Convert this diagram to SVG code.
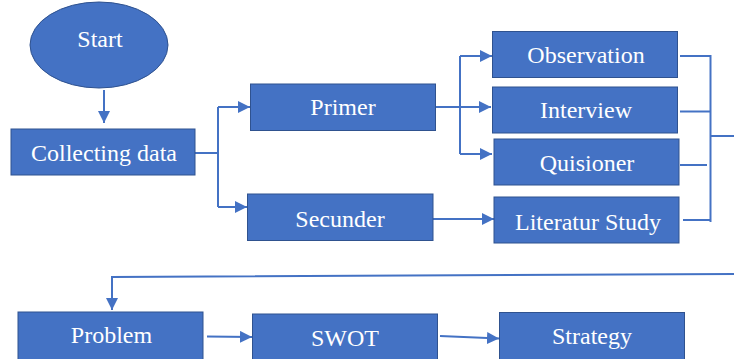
<svg xmlns="http://www.w3.org/2000/svg" width="734" height="359" viewBox="0 0 734 359">
  <style>
    .box { fill: #4472C4; stroke: #2F528F; stroke-width: 1; }
    .lbl { fill: #ffffff; font-family: 'Liberation Serif', 'DejaVu Serif', serif; font-size: 24px; text-anchor: middle; }
    .ln { fill: none; stroke: #4472C4; stroke-width: 2; }
    .arr { fill: none; stroke: #4472C4; stroke-width: 2; marker-end: url(#ah); }
  </style>
  <defs>
    <marker id="ah" markerUnits="userSpaceOnUse" markerWidth="12" markerHeight="12" refX="12" refY="6" orient="auto">
      <path d="M0,0 L12,6 L0,12 z" fill="#4472C4"/>
    </marker>
  </defs>
  <rect x="0" y="0" width="734" height="359" fill="#ffffff"/>

  <g id="connectors">
    <line class="arr" x1="104" y1="90" x2="104" y2="123"/>
    <polyline class="ln" points="195,153 218,153"/>
    <polyline class="ln" points="218,107 218,207"/>
    <line class="arr" x1="218" y1="107" x2="250" y2="107"/>
    <line class="arr" x1="218" y1="207" x2="247" y2="207"/>
    <line class="arr" x1="436" y1="107" x2="491" y2="107"/>
    <polyline class="ln" points="460,56 460,154"/>
    <line class="arr" x1="460" y1="56" x2="492" y2="56"/>
    <line class="arr" x1="460" y1="154" x2="492" y2="154"/>
    <line class="arr" x1="433" y1="219" x2="494" y2="219"/>
    <line class="ln" x1="680" y1="56" x2="711" y2="56"/>
    <line class="ln" x1="680" y1="111.5" x2="711" y2="111.5"/>
    <line class="ln" x1="680" y1="165" x2="707" y2="165"/>
    <line class="ln" x1="683" y1="220" x2="711" y2="220"/>
    <line class="ln" x1="710.5" y1="55" x2="710.5" y2="222"/>
    <line class="ln" x1="710.5" y1="136" x2="734" y2="136"/>
    <polyline class="arr" points="734,274 112,277 112,310"/>
    <line class="arr" x1="207" y1="336.5" x2="252" y2="337"/>
    <line class="arr" x1="440" y1="336" x2="499" y2="338.5"/>
  </g>

  <g id="start">
    <ellipse cx="99" cy="45" rx="69" ry="43" class="box"/>
    <text class="lbl" x="100" y="47">Start</text>
  </g>
  <g id="collecting">
    <rect class="box" x="11" y="129" width="184" height="46"/>
    <text class="lbl" x="104" y="160.5">Collecting data</text>
  </g>
  <g id="primer">
    <rect class="box" x="250.5" y="84" width="185" height="46.5"/>
    <text class="lbl" x="343" y="115">Primer</text>
  </g>
  <g id="secunder">
    <rect class="box" x="247.5" y="194" width="185.5" height="46.5"/>
    <text class="lbl" x="340" y="226.5">Secunder</text>
  </g>
  <g id="observation">
    <rect class="box" x="492.5" y="31.5" width="185" height="46"/>
    <text class="lbl" x="586" y="63">Observation</text>
  </g>
  <g id="interview">
    <rect class="box" x="492.5" y="87" width="185" height="46"/>
    <text class="lbl" x="586" y="118">Interview</text>
  </g>
  <g id="quisioner">
    <rect class="box" x="494" y="139" width="185" height="46"/>
    <text class="lbl" x="587" y="170.5">Quisioner</text>
  </g>
  <g id="literatur">
    <rect class="box" x="494" y="197" width="185" height="46"/>
    <text class="lbl" x="588" y="230">Literatur Study</text>
  </g>
  <g id="problem">
    <rect class="box" x="18" y="312" width="185" height="50"/>
    <text class="lbl" x="111.5" y="343">Problem</text>
  </g>
  <g id="swot">
    <rect class="box" x="252.5" y="314" width="185" height="50"/>
    <text class="lbl" x="345" y="345.5">SWOT</text>
  </g>
  <g id="strategy">
    <rect class="box" x="499.5" y="312.5" width="185" height="50"/>
    <text class="lbl" x="592" y="344">Strategy</text>
  </g>
</svg>
